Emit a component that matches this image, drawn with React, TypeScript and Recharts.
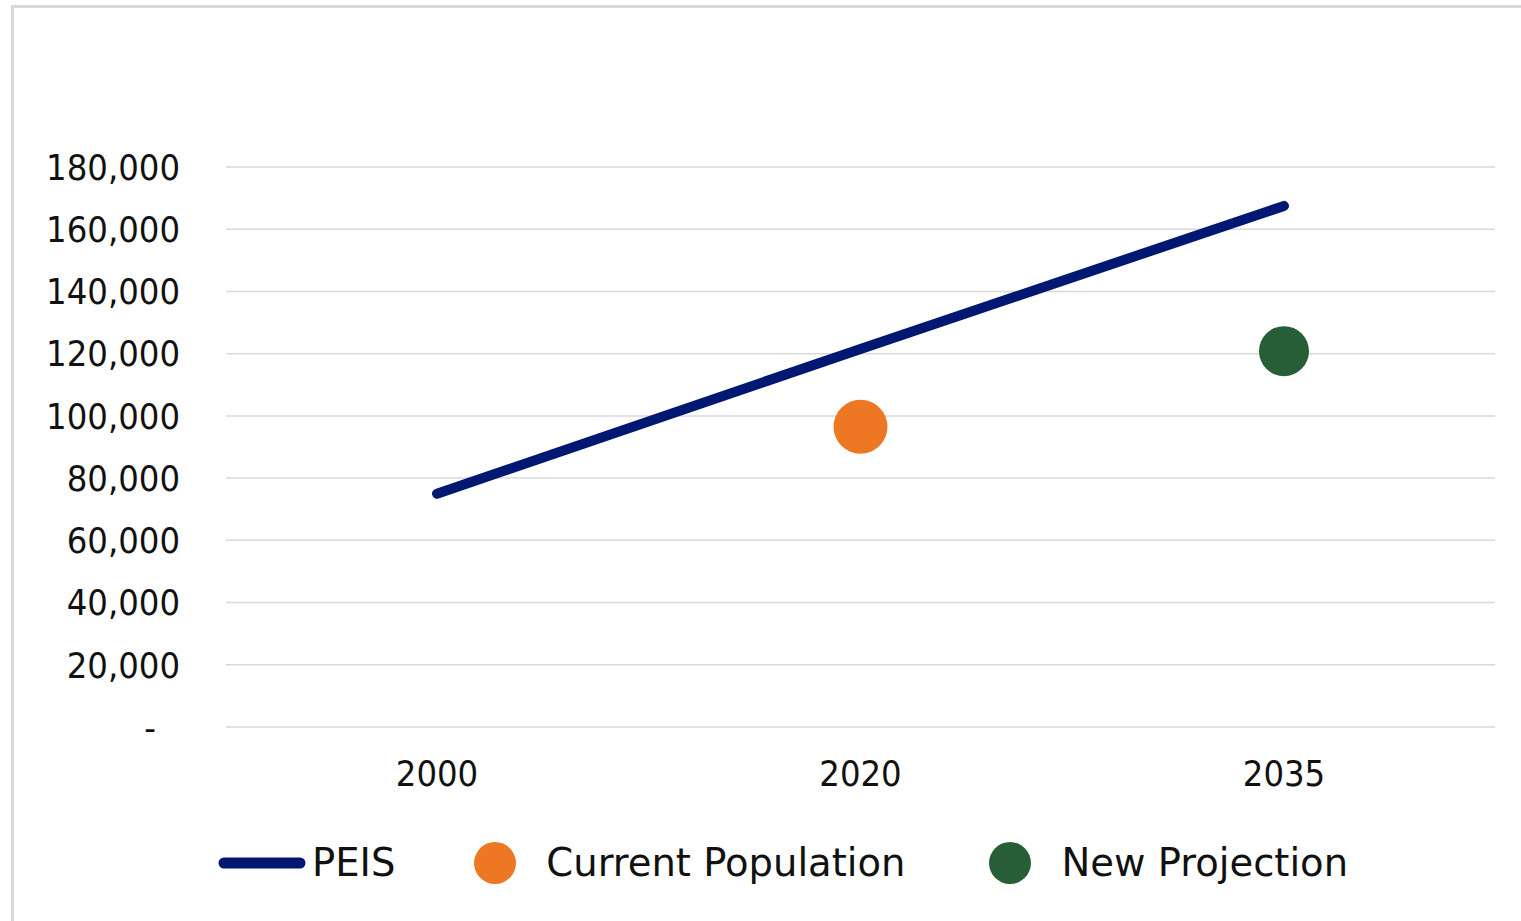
import React from "react";
import {
  ComposedChart,
  Line,
  XAxis,
  YAxis,
  CartesianGrid,
  Legend,
} from "recharts";

const years = ["2000", "2020", "2035"];
const peis = [75000, 121500, 167500];
const currentPopulation = [null, 96500, null];
const newProjection = [null, null, 120800];
const yTicks = [0, 20000, 40000, 60000, 80000, 100000, 120000, 140000, 160000, 180000];

const NAVY = "#001871";
const ORANGE = "#ED7723";
const GREEN = "#275E38";
const FONT = "'DejaVu Sans Condensed', 'DejaVu Sans', sans-serif";
const LEGEND_FONT = "'DejaVu Sans', sans-serif";

const data = years.map((year, i) => ({
  year,
  peis: peis[i],
  current: currentPopulation[i],
  projection: newProjection[i],
}));

function YTick({ x, y, payload }: any) {
  const v = payload.value as number;
  const label = v === 0 ? "-" : v.toLocaleString("en-US");
  return (
    <text
      x={v === 0 ? x - 24 : x}
      y={y}
      dy="0.355em"
      textAnchor="end"
      fontSize={36}
      fontFamily={FONT}
      fill="#111"
    >
      {label}
    </text>
  );
}

const legendItems = [
  { label: "PEIS", type: "line", color: NAVY, gap: 79 },
  { label: "Current Population", type: "dot", color: ORANGE, gap: 84 },
  { label: "New Projection", type: "dot", color: GREEN, gap: 0 },
];

function ChartLegend() {
  return (
    <div style={{ display: "flex", alignItems: "center", fontFamily: LEGEND_FONT, fontSize: 38.5, color: "#111" }}>
      {legendItems.map((item) => (
        <div key={item.label} style={{ display: "flex", alignItems: "center", marginRight: item.gap }}>
          {item.type === "line" ? (
            <svg width={88} height={14} style={{ marginRight: 6 }}>
              <line x1={6} y1={7} x2={82} y2={7} stroke={item.color} strokeWidth={11} strokeLinecap="round" />
            </svg>
          ) : (
            <svg width={42} height={42} style={{ marginRight: 30 }}>
              <circle cx={21} cy={21} r={21} fill={item.color} />
            </svg>
          )}
          <span style={{ lineHeight: "46px" }}>{item.label}</span>
        </div>
      ))}
    </div>
  );
}

export default function App() {
  return (
    <div style={{ position: "fixed", left: 0, top: 0, width: 1521, height: 921, overflow: "hidden", background: "#fff" }}>
      <div
        style={{
          position: "absolute",
          left: 11,
          top: 5,
          width: 1530,
          height: 940,
          border: "3px solid #d9d9d9",
          boxSizing: "border-box",
        }}
      />
      <div style={{ position: "absolute", left: 0, top: 0 }}>
        <ComposedChart
          width={1521}
          height={921}
          data={data}
          margin={{ top: 167, right: 26, bottom: 118, left: 0 }}
        >
          <CartesianGrid vertical={false} stroke="#d9d9d9" strokeWidth={1.5} />
          <XAxis
            dataKey="year"
            scale="point"
            padding={{ left: 211, right: 211 }}
            axisLine={false}
            tickLine={false}
            tickSize={0}
            tickMargin={33}
            tick={{ fontSize: 36, fontFamily: FONT, fill: "#111" }}
            interval={0}
          />
          <YAxis
            width={226}
            domain={[0, 180000]}
            ticks={yTicks}
            axisLine={false}
            tickLine={false}
            tickSize={0}
            tickMargin={46}
            tick={<YTick />}
            interval={0}
          />
          <Line
            dataKey="peis"
            stroke={NAVY}
            strokeWidth={10}
            strokeLinecap="round"
            dot={false}
            activeDot={false}
            isAnimationActive={false}
          />
          <Line
            dataKey="current"
            stroke="none"
            dot={{ r: 27, fill: ORANGE, stroke: "none" }}
            activeDot={false}
            isAnimationActive={false}
          />
          <Line
            dataKey="projection"
            stroke="none"
            dot={{ r: 25, fill: GREEN, stroke: "none" }}
            activeDot={false}
            isAnimationActive={false}
          />
          <Legend
            content={<ChartLegend />}
            wrapperStyle={{ left: 218, top: 840, width: "auto", bottom: "auto" }}
          />
        </ComposedChart>
      </div>
    </div>
  );
}
